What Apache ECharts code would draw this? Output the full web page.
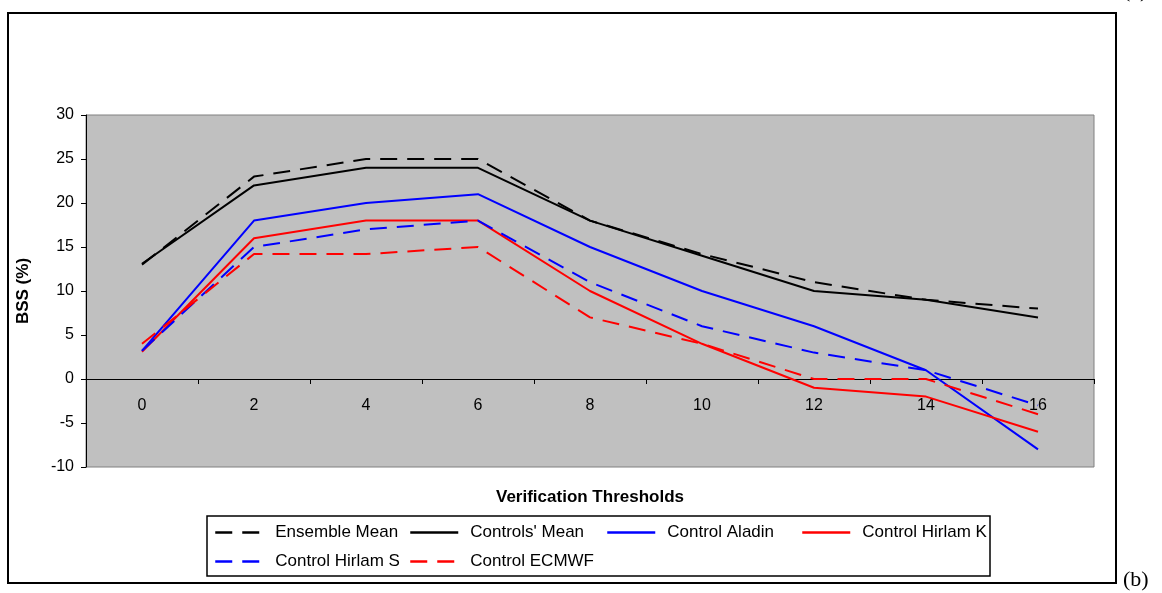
<!DOCTYPE html>
<html>
<head>
<meta charset="utf-8">
<script src="https://cdn.jsdelivr.net/npm/echarts@6/dist/echarts.min.js"></script>
<style>
  html, body { margin: 0; padding: 0; background: #ffffff; }
  #chart { width: 1162px; height: 593px; }
</style>
</head>
<body>
<div id="chart"></div>
<script>
// Verification thresholds on the category axis
const thresholds = ['0', '2', '4', '6', '8', '10', '12', '14', '16'];

// Brier skill score (%) per threshold
const ensembleMean  = [13, 23, 25, 25, 18, 14.2, 11, 9, 8];
const controlsMean  = [13.1, 22, 24, 24, 18, 14, 10, 9, 7];
const controlAladin = [3.2, 18, 20, 21, 15, 10, 6, 1, -8];
const controlHirlamK = [3.1, 16, 18, 18, 10, 4, -1, -2, -6];
const controlHirlamS = [3.2, 15, 17, 18, 11, 6, 3, 1, -3];
const controlECMWF  = [4, 14.2, 14.2, 15, 7, 4, 0, 0, -4];

const FONT = 'Liberation Sans, Arial, sans-serif';
const DASH = [17, 10];

// y range of the plot and its pixel extent, used to put the category axis on the zero line
const Y_MIN = -10, Y_MAX = 30;
const GRID_TOP = 115, GRID_BOTTOM = 126, CHART_H = 593;
const plotH = CHART_H - GRID_TOP - GRID_BOTTOM;
const zeroOffset = -plotH * (0 - Y_MIN) / (Y_MAX - Y_MIN);

function lineSeries(name, data, color, dashed) {
  return {
    name: name,
    type: 'line',
    data: data,
    symbol: 'none',
    showSymbol: false,
    lineStyle: { color: color, width: 2, type: dashed ? DASH : 'solid' },
    itemStyle: { color: color },
    emphasis: { disabled: true }
  };
}

// one legend per slot so the entries sit in fixed columns
function legendAt(name, left, top) {
  return {
    data: [name],
    left: left,
    top: top,
    padding: 0,
    itemWidth: 48,
    itemHeight: 14,
    selectedMode: false,
    itemStyle: { opacity: 0, borderWidth: 0 },
    lineStyle: { width: 2.5 },
    textStyle: { fontFamily: FONT, fontSize: 17, color: '#000', padding: [0, 0, 0, 7] }
  };
}

const chart = echarts.init(document.getElementById('chart'), null, { renderer: 'canvas' });

chart.setOption({
  animation: false,
  backgroundColor: '#ffffff',
  grid: {
    left: 86, right: 68, top: GRID_TOP, bottom: GRID_BOTTOM,
    show: true,
    backgroundColor: '#C0C0C0',
    borderColor: '#808080',
    borderWidth: 1
  },
  xAxis: {
    type: 'category',
    data: thresholds,
    boundaryGap: true,
    offset: zeroOffset,
    axisLine: { show: true, onZero: false, lineStyle: { color: '#000', width: 1 } },
    axisTick: { show: true, length: 5, interval: 0, lineStyle: { color: '#000' } },
    axisLabel: { fontFamily: FONT, fontSize: 16, color: '#000', margin: 19, interval: 0 },
    splitLine: { show: false }
  },
  yAxis: {
    type: 'value',
    min: Y_MIN,
    max: Y_MAX,
    interval: 5,
    name: 'BSS (%)',
    nameLocation: 'middle',
    nameGap: 54,
    nameTextStyle: { fontFamily: FONT, fontSize: 17, fontWeight: 'bold', color: '#000' },
    axisLine: { show: true, lineStyle: { color: '#000', width: 1 } },
    axisTick: { show: true, length: 5, lineStyle: { color: '#000' } },
    axisLabel: { fontFamily: FONT, fontSize: 16, color: '#000', margin: 12 },
    splitLine: { show: false }
  },
  legend: [
    legendAt('Ensemble Mean', 214, 524),
    legendAt("Controls' Mean", 409, 524),
    legendAt('Control Aladin', 606, 524),
    legendAt('Control Hirlam K', 801, 524),
    legendAt('Control Hirlam S', 214, 553),
    legendAt('Control ECMWF', 409, 553)
  ],
  series: [
    lineSeries('Ensemble Mean', ensembleMean, '#000000', true),
    lineSeries("Controls' Mean", controlsMean, '#000000', false),
    lineSeries('Control Aladin', controlAladin, '#0000FF', false),
    lineSeries('Control Hirlam K', controlHirlamK, '#FF0000', false),
    lineSeries('Control Hirlam S', controlHirlamS, '#0000FF', true),
    lineSeries('Control ECMWF', controlECMWF, '#FF0000', true)
  ],
  graphic: [
    {
      type: 'rect', z: -1, silent: true,
      shape: { x: 8, y: 13, width: 1108, height: 570 },
      style: { fill: null, stroke: '#000', lineWidth: 2 }
    },
    {
      type: 'rect', silent: true,
      shape: { x: 207, y: 516, width: 783, height: 60 },
      style: { fill: null, stroke: '#000', lineWidth: 1.5 }
    },
    {
      type: 'text', silent: true,
      x: 590, y: 497,
      style: {
        text: 'Verification Thresholds',
        fontFamily: FONT, fontSize: 17, fontWeight: 'bold', fill: '#000',
        align: 'center', verticalAlign: 'middle'
      }
    },
    {
      type: 'text', silent: true,
      x: 1123, y: 580,
      style: {
        text: '(b)',
        fontFamily: 'Liberation Serif, Times New Roman, serif', fontSize: 22, fill: '#000',
        align: 'left', verticalAlign: 'middle'
      }
    },
    {
      type: 'text', silent: true,
      x: 1123, y: -9,
      style: {
        text: '(a)',
        fontFamily: 'Liberation Serif, Times New Roman, serif', fontSize: 22, fill: '#000',
        align: 'left', verticalAlign: 'middle'
      }
    }
  ]
});
</script>
</body>
</html>
